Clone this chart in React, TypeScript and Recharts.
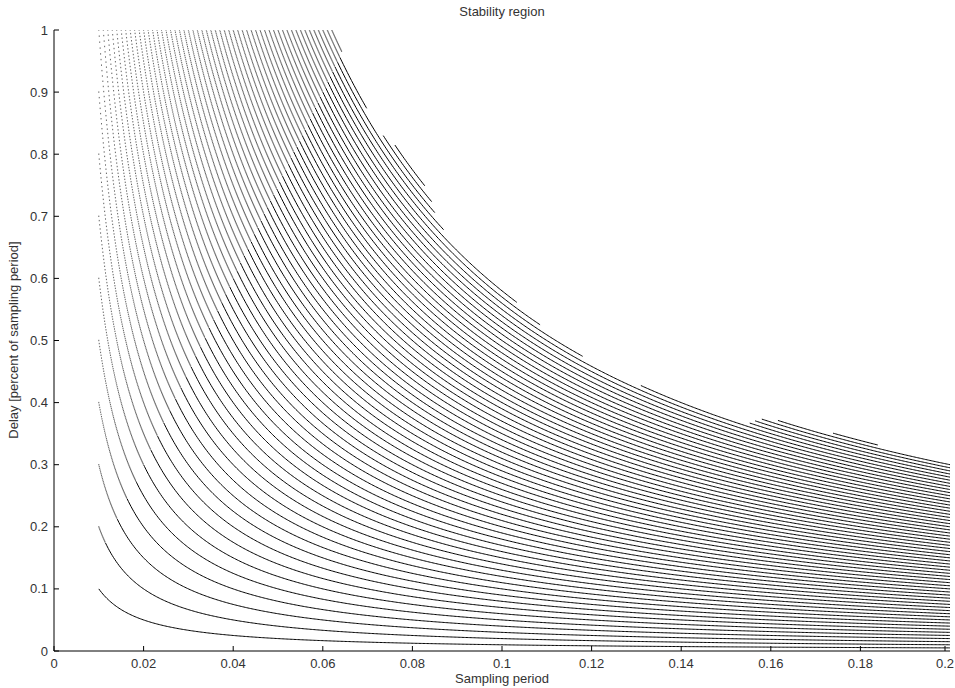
import React from 'react';
import { ComposedChart, Line, Scatter, XAxis, YAxis } from 'recharts';

// one curve per delay time (ms); delay in fraction of the period = delay time / period
const delayTimesMs = [
  1, 2, 3, 4, 5, 6, 7, 8, 9, 10,
  11, 12, 13, 14, 15, 16, 17, 18, 19, 20,
  21, 22, 23, 24, 25, 26, 27, 28, 29, 30,
  31, 32, 33, 34, 35, 36, 37, 38, 39, 40,
  41, 42, 43, 44, 45, 46, 47, 48, 49, 50,
  51, 52, 53, 54, 55, 56, 57, 58, 59, 60,
  61, 62,
];

// curves cut by the stability boundary: stable period spans (s)
const clippedCurves = [
  { ms: 56, spans: [[0.056, 0.118], [0.131, 0.2]] },
  { ms: 57, spans: [[0.057, 0.1085], [0.1553, 0.2]] },
  { ms: 58, spans: [[0.058, 0.1033], [0.1565, 0.2]] },
  { ms: 59, spans: [[0.059, 0.087], [0.158, 0.2]] },
  { ms: 60, spans: [[0.06, 0.085], [0.1616, 0.2]] },
  { ms: 61, spans: [[0.061, 0.0698], [0.0735, 0.0843], [0.1739, 0.1839]] },
  { ms: 62, spans: [[0.062, 0.0642], [0.0761, 0.0828]] },
];

const periodRange = [0.01, 0.2];
const sweepStep = 0.0001; // period sweep step of the original plot
const periodTicks = [0, 0.02, 0.04, 0.06, 0.08, 0.1, 0.12, 0.14, 0.16, 0.18, 0.2];
const delayTicks = [0, 0.1, 0.2, 0.3, 0.4, 0.5, 0.6, 0.7, 0.8, 0.9, 1];

// where points of one sweep step are further apart than this they show as dots
const dotRise = 0.0015;

type Pt = { t: number; d: number };

const spansOf = (ms: number): number[][] => {
  const c = clippedCurves.find((x) => x.ms === ms);
  if (c) return c.spans;
  return [[Math.max(periodRange[0], ms / 1000), periodRange[1]]];
};

const dots: Pt[] = [];
const segments: { key: string; pts: Pt[] }[] = [];
delayTimesMs.forEach((ms) => {
  const tau = ms / 1000;
  spansOf(ms).forEach(([a, b], si) => {
    const pts: Pt[] = [];
    const i0 = Math.round(a / sweepStep);
    const i1 = Math.round(b / sweepStep);
    for (let i = i0; i <= i1; i++) {
      const t = i * sweepStep;
      const d = Math.min(1, tau / t);
      const rise = tau / t - tau / (t + sweepStep);
      if (rise > dotRise) {
        dots.push({ t, d });
        continue;
      }
      if (pts.length === 0 || i === i1 || (i - i0) % 3 === 0) pts.push({ t, d });
    }
    if (pts.length > 1) segments.push({ key: `${ms}-${si}`, pts });
  });
});

const font = "'Liberation Sans', Arial, Helvetica, sans-serif";
const fmt = (v: number) => String(Number(v.toFixed(2)));

// tick marks point into the plot box, as in MATLAB
const XTick = (p: any) => (
  <g>
    <line x1={p.x} x2={p.x} y1={p.y - 12} y2={p.y - 17} stroke="#000" />
    <text x={p.x} y={p.y} dy="0.35em" textAnchor="middle" fontSize={13} fontFamily={font} fill="#333">
      {fmt(p.payload.value)}
    </text>
  </g>
);

const YTick = (p: any) => (
  <g>
    <line x1={p.x + 6} x2={p.x + 11} y1={p.y} y2={p.y} stroke="#000" />
    <text x={p.x} y={p.y} dy="0.35em" textAnchor="end" fontSize={13} fontFamily={font} fill="#333">
      {fmt(p.payload.value)}
    </text>
  </g>
);

const TopTick = (p: any) => <line x1={p.x} x2={p.x} y1={p.y} y2={p.y + 5} stroke="#000" />;
const RightTick = (p: any) => <line x1={p.x} x2={p.x - 5} y1={p.y} y2={p.y} stroke="#000" />;

const Dot = (p: any) => <rect x={p.cx - 0.5} y={p.cy - 0.7} width={1} height={1.4} fill="#666" />;

export default function App() {
  return (
    <div style={{ position: 'absolute', left: 0, top: 0, width: 955, height: 688, overflow: 'hidden', background: '#fff', fontFamily: font }}>
      <ComposedChart width={955} height={688} margin={{ top: 30, right: 5, bottom: 1, left: 0 }}>
        <XAxis
          xAxisId={0}
          dataKey="t"
          type="number"
          domain={[0, 0.2]}
          ticks={periodTicks}
          allowDataOverflow
          height={36}
          tickSize={0}
          tickMargin={12}
          tick={XTick}
          tickLine={false}
          axisLine={{ stroke: '#000' }}
        />
        <XAxis
          xAxisId="top"
          orientation="top"
          type="number"
          domain={[0, 0.2]}
          ticks={periodTicks}
          height={0}
          tickSize={0}
          tickMargin={0}
          tick={TopTick}
          tickLine={false}
          axisLine={{ stroke: '#000' }}
        />
        <YAxis
          yAxisId={0}
          dataKey="d"
          type="number"
          domain={[0, 1]}
          ticks={delayTicks}
          allowDataOverflow
          width={54}
          tickSize={0}
          tickMargin={6}
          tick={YTick}
          tickLine={false}
          axisLine={{ stroke: '#000' }}
        />
        <YAxis
          yAxisId="right"
          orientation="right"
          type="number"
          domain={[0, 1]}
          ticks={delayTicks}
          width={0}
          tickSize={0}
          tickMargin={0}
          tick={RightTick}
          tickLine={false}
          axisLine={{ stroke: '#000' }}
        />
        {segments.map((s) => (
          <Line
            key={s.key}
            data={s.pts}
            dataKey="d"
            type="linear"
            stroke="#000"
            strokeWidth={1}
            dot={false}
            activeDot={false}
            isAnimationActive={false}
          />
        ))}
        <Scatter data={dots} dataKey="d" shape={Dot} isAnimationActive={false} />
      </ComposedChart>
      <div style={{ position: 'absolute', left: 54, width: 896, top: 4, textAlign: 'center', fontSize: 13, color: '#333' }}>
        Stability region
      </div>
      <div style={{ position: 'absolute', left: 54, width: 896, top: 671, textAlign: 'center', fontSize: 13, color: '#333' }}>
        Sampling period
      </div>
      <div
        style={{
          position: 'absolute',
          left: 14,
          top: 340,
          width: 400,
          marginLeft: -200,
          marginTop: -8,
          textAlign: 'center',
          fontSize: 13,
          lineHeight: '16px',
          color: '#333',
          transform: 'rotate(-90deg)',
        }}
      >
        Delay [percent of sampling period]
      </div>
    </div>
  );
}
